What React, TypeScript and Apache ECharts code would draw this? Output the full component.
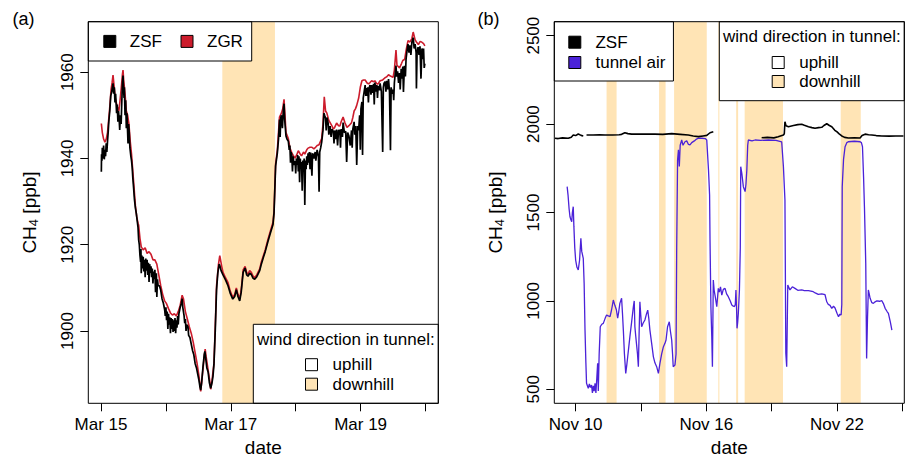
import React, { useEffect, useRef } from 'react';
import * as echarts from 'echarts';

const FONT = '"Liberation Sans", Arial, Helvetica, sans-serif';
const SHADE = '#FFE4B5';
const RED = '#CC1C2C';
const PURPLE = '#4B22D8';
const BLACK = '#000000';

// ---------- Panel (a): x = days since Mar 15 00:00 ----------
const marStartDay = 15;
const marTickDays = [0, 1, 2, 3, 4, 5];
const marLabelDays = [0, 2, 4];
const marYTicks = [1900, 1920, 1940, 1960];
const marDownhill = [[1.869, 2.68]];

const zgrMar = [
  [0.005,1948.1],[0.02,1946],[0.04,1944.5],[0.06,1943.8],[0.08,1944.5],[0.1,1946],[0.13,1951],[0.155,1956],[0.17,1957.5],[0.185,1959.3],
  [0.2,1957],[0.22,1954],[0.25,1952],[0.275,1951],[0.29,1953],[0.31,1956],[0.33,1959.5],[0.339,1960.5],[0.35,1958],[0.37,1955],
  [0.39,1951],[0.41,1950],[0.43,1948],[0.45,1944],[0.47,1941],[0.49,1937],[0.51,1933],[0.53,1929],[0.55,1926.5],[0.57,1925],
  [0.58,1924.5],[0.6,1921.5],[0.62,1919.5],[0.65,1918.8],[0.68,1919.3],[0.71,1918],[0.74,1918.4],[0.77,1917.8],[0.8,1916.5],[0.83,1916.5],
  [0.86,1915.5],[0.89,1913],[0.92,1910.5],[0.95,1908.5],[0.98,1907],[1.007,1906.4],[1.04,1905.2],[1.07,1904.2],[1.1,1903.7],[1.13,1904],
  [1.16,1903.5],[1.19,1904.5],[1.22,1906],[1.25,1908.3],[1.27,1907.5],[1.3,1904.5],[1.33,1902.8],[1.36,1901],[1.39,1899.5],[1.42,1897.5],
  [1.45,1895],[1.48,1892.5],[1.51,1889.5],[1.536,1886],[1.56,1889.5],[1.59,1894],[1.605,1895.8],[1.62,1894],[1.65,1891],[1.675,1888.5],
  [1.69,1886.5],[1.71,1888.5],[1.74,1892.5],[1.76,1901],[1.78,1910.5],[1.81,1915.5],[1.83,1917.5],[1.86,1915],[1.88,1913.6],[1.92,1912.3],
  [1.957,1911.2],[1.99,1909.3],[2.03,1907.8],[2.06,1908.5],[2.085,1910],[2.11,1908.5],[2.137,1907.4],[2.16,1909.5],[2.19,1914.2],[2.22,1915],
  [2.245,1913.5],[2.265,1913.2],[2.29,1914],[2.316,1913.6],[2.34,1912.8],[2.368,1912.4],[2.4,1913],[2.445,1914.4],[2.47,1916],[2.5,1917.4],
  [2.53,1918.8],[2.573,1921.3],[2.61,1923.2],[2.65,1925.2],[2.666,1927.8],[2.69,1938.7],[2.717,1942],[2.75,1949.6],[2.78,1950.5],[2.8,1951.5],
  [2.82,1953.7],[2.835,1950],[2.85,1946],[2.886,1944.6],[2.91,1942.5],[2.94,1941.3],[2.97,1940.5],[2.99,1940.1],[3.02,1941],[3.04,1941.8],
  [3.07,1941],[3.09,1940.6],[3.12,1941.5],[3.14,1941],[3.17,1942],[3.19,1942.4],[3.22,1942.6],[3.25,1942.6],[3.28,1942.2],[3.3,1942.5],
  [3.33,1943],[3.36,1943.2],[3.4,1944.6],[3.42,1948],[3.44,1954.3],[3.46,1951],[3.48,1950.5],[3.51,1948.8],[3.53,1948.3],[3.56,1947.5],
  [3.58,1946.8],[3.6,1947.2],[3.63,1948.2],[3.66,1947.6],[3.68,1947.5],[3.7,1948.5],[3.73,1949.6],[3.76,1948.2],[3.79,1947.2],[3.82,1947.6],
  [3.86,1948.3],[3.88,1949.5],[3.9,1951],[3.92,1951.5],[3.94,1952.3],[3.97,1954],[3.995,1956.5],[4.02,1958],[4.045,1958.2],[4.07,1958.2],
  [4.1,1957.5],[4.12,1957.3],[4.145,1957.6],[4.17,1958],[4.2,1957.8],[4.22,1958],[4.25,1957.3],[4.27,1957.3],[4.3,1958],[4.34,1958.2],
  [4.376,1958.7],[4.4,1958.9],[4.43,1959.4],[4.46,1959.1],[4.5,1958.8],[4.52,1960.5],[4.545,1965.1],[4.56,1961.6],[4.6,1961],[4.63,1962],
  [4.65,1962.7],[4.68,1963],[4.7,1965],[4.73,1967.3],[4.76,1967],[4.79,1967.8],[4.81,1969.3],[4.84,1967.5],[4.86,1967],[4.89,1966.4],
  [4.915,1967.1],[4.94,1967],[4.97,1966.6],[4.99,1966.1]
];

const zsfMar = [
  [0.005,1936.9],[0.008,1941],[0.015,1939.5],[0.02,1942.5],[0.03,1940],[0.04,1943],[0.05,1939.8],[0.06,1942],[0.07,1940.5],[0.08,1943.5],
  [0.09,1941.5],[0.1,1944],[0.11,1946],[0.12,1948.5],[0.135,1951],[0.15,1954.5],[0.165,1955.5],[0.175,1956.5],[0.185,1957.4],[0.195,1955],
  [0.205,1956.5],[0.215,1953],[0.225,1955],[0.24,1950.5],[0.25,1952.5],[0.26,1948.5],[0.27,1951],[0.28,1949],[0.288,1946.6],[0.3,1950],
  [0.31,1948],[0.32,1953],[0.33,1957.5],[0.339,1959.2],[0.345,1957],[0.355,1954],[0.36,1956.5],[0.37,1950],[0.38,1953.5],[0.39,1947],
  [0.4,1950.5],[0.41,1946],[0.416,1943.5],[0.425,1948],[0.435,1946],[0.445,1942.5],[0.46,1940.5],[0.47,1939.5],[0.48,1938],[0.49,1935.5],
  [0.503,1933],[0.515,1930.5],[0.53,1928.5],[0.544,1927.2],[0.57,1924],[0.58,1921.1],[0.59,1920],[0.6,1917.5],[0.61,1916],[0.615,1919],
  [0.62,1913.4],[0.63,1917.5],[0.64,1914.5],[0.65,1917.2],[0.66,1913.8],[0.67,1916.5],[0.68,1912.5],[0.69,1916.8],[0.7,1914],[0.71,1916.5],
  [0.72,1913],[0.73,1915.8],[0.74,1911.4],[0.75,1915.5],[0.76,1913.5],[0.77,1915],[0.78,1912.5],[0.79,1914.5],[0.8,1911],[0.81,1913.8],
  [0.82,1912],[0.83,1914.2],[0.84,1909],[0.853,1913.4],[0.86,1907.9],[0.87,1912],[0.88,1910.5],[0.9,1910.5],[0.92,1909.5],[0.94,1907.5],
  [0.96,1906.5],[0.98,1905],[0.99,1903.5],[1.0,1905.5],[1.01,1902.5],[1.02,1904.5],[1.03,1900.5],[1.04,1904],[1.05,1901.5],[1.06,1903.2],
  [1.07,1899.5],[1.08,1903],[1.09,1900.5],[1.1,1902.8],[1.11,1899.8],[1.12,1902.5],[1.13,1900],[1.14,1903],[1.15,1899.5],[1.16,1902.5],
  [1.17,1900.8],[1.18,1903.5],[1.19,1901.5],[1.2,1904],[1.22,1905.5],[1.237,1906.4],[1.25,1907.5],[1.26,1905.5],[1.28,1903.5],[1.29,1901.8],
  [1.3,1902.8],[1.31,1900],[1.32,1901.5],[1.34,1901],[1.35,1899],[1.37,1898.5],[1.39,1897],[1.41,1895.5],[1.43,1894.5],[1.45,1892.5],
  [1.47,1891.5],[1.49,1890],[1.51,1888.5],[1.525,1887],[1.536,1886.3],[1.55,1888],[1.57,1891.5],[1.59,1894.5],[1.6,1895.3],[1.615,1893.5],
  [1.63,1891.5],[1.65,1890.5],[1.67,1888],[1.69,1886.7],[1.71,1888],[1.725,1889.5],[1.74,1892.2],[1.76,1900],[1.78,1909.5],[1.8,1913.5],
  [1.82,1915.5],[1.83,1915.2],[1.85,1914],[1.88,1913],[1.92,1911.8],[1.957,1910.5],[1.99,1908.8],[2.03,1907.4],[2.06,1908],[2.085,1909.6],
  [2.11,1908],[2.137,1907],[2.16,1909],[2.19,1913.6],[2.22,1914.6],[2.245,1913],[2.265,1912.7],[2.29,1913.4],[2.316,1913.1],[2.34,1912.3],
  [2.368,1912],[2.4,1912.6],[2.445,1914],[2.47,1915.5],[2.5,1917],[2.53,1918.4],[2.573,1920.8],[2.61,1922.7],[2.65,1924.7],[2.666,1927.4],
  [2.69,1938.2],[2.717,1941.3],[2.735,1944.5],[2.75,1949],[2.76,1945],[2.77,1949.5],[2.78,1950],[2.795,1947],[2.81,1951.5],[2.82,1952.7],
  [2.83,1949],[2.85,1945.2],[2.865,1944.5],[2.886,1944],[2.9,1942],[2.91,1943],[2.92,1939],[2.93,1941.5],[2.94,1940.6],[2.95,1937],
  [2.96,1940.5],[2.975,1938.5],[2.99,1939.4],[3.0,1936.5],[3.01,1940],[3.02,1938.5],[3.03,1940.8],[3.04,1937],[3.05,1940.5],[3.06,1934.5],
  [3.07,1940],[3.08,1938],[3.09,1939.2],[3.1,1932.5],[3.11,1939.5],[3.12,1937],[3.13,1940],[3.14,1929.2],[3.15,1939.5],[3.16,1937.5],
  [3.17,1940.5],[3.18,1938.5],[3.19,1941.2],[3.2,1939],[3.21,1941.5],[3.22,1937.5],[3.23,1941.4],[3.25,1936],[3.26,1941.2],[3.28,1940],
  [3.3,1941.5],[3.31,1939.5],[3.33,1942],[3.35,1940.5],[3.36,1932.3],[3.37,1941.5],[3.385,1942.5],[3.4,1943.8],[3.42,1946.5],[3.435,1950.5],
  [3.445,1950],[3.46,1949.3],[3.47,1946.5],[3.48,1949.5],[3.5,1948.2],[3.51,1945.5],[3.53,1947.5],[3.545,1945],[3.56,1946.8],[3.58,1946.2],
  [3.59,1943.5],[3.6,1946.5],[3.62,1944.5],[3.63,1946.7],[3.645,1943],[3.66,1946.5],[3.68,1946.5],[3.69,1942.5],[3.7,1946.8],[3.72,1945],
  [3.73,1948.3],[3.75,1946],[3.77,1946.3],[3.785,1939.2],[3.8,1946],[3.82,1945.2],[3.84,1943],[3.86,1946.5],[3.87,1942.5],[3.88,1946.8],
  [3.9,1948.5],[3.91,1945.5],[3.925,1947.5],[3.94,1938.5],[3.955,1947.5],[3.97,1946.5],[3.985,1950],[3.995,1942],[4.005,1951.5],[4.02,1953.1],
  [4.03,1940.8],[4.04,1954],[4.055,1955.5],[4.07,1957],[4.08,1954.5],[4.09,1956.3],[4.1,1954.5],[4.11,1956.5],[4.12,1953],[4.13,1956.3],
  [4.145,1957],[4.16,1954.8],[4.17,1957],[4.185,1955.2],[4.2,1957.3],[4.21,1952.5],[4.22,1957.6],[4.235,1955.5],[4.25,1957],[4.26,1954],
  [4.27,1956.8],[4.29,1955.8],[4.3,1957.4],[4.32,1955.5],[4.34,1941.5],[4.35,1956.5],[4.36,1957.4],[4.376,1957.8],[4.39,1955.5],[4.4,1958],
  [4.415,1956],[4.43,1958.4],[4.445,1955.5],[4.46,1941.9],[4.47,1956.5],[4.485,1955],[4.5,1956],[4.51,1953.5],[4.52,1957.5],[4.535,1960],
  [4.545,1961.5],[4.555,1959],[4.57,1960.2],[4.585,1957.5],[4.6,1959.8],[4.61,1956],[4.625,1960.8],[4.64,1958.5],[4.65,1961.3],[4.66,1955.4],
  [4.675,1961.5],[4.69,1959],[4.7,1963],[4.715,1965],[4.73,1966.5],[4.745,1964.5],[4.76,1966.2],[4.775,1964],[4.79,1967],[4.81,1968],
  [4.825,1965.5],[4.84,1966.5],[4.855,1964.5],[4.86,1956.2],[4.87,1964.5],[4.885,1965.8],[4.9,1964],[4.915,1966],[4.93,1958.5],[4.945,1965.5],
  [4.96,1963],[4.97,1965.5],[4.98,1961],[4.99,1962]
];

// ---------- Panel (b): x = days since Nov 10 00:00 ----------
const novStartDay = 10;
const novTickDays = [0, 3, 6, 9, 12, 15];
const novLabelDays = [0, 6, 12];
const novYTicks = [500, 1000, 1500, 2000, 2500];
const novDownhill = [[1.42,1.88],[3.83,4.13],[4.52,6.02],[6.55,6.6],[7.37,7.46],[7.76,9.52],[12.17,13.09]];

const tunnelNov = [
  [-0.39,1646],[-0.35,1600],[-0.3,1520],[-0.26,1476],[-0.22,1460],[-0.18,1448],[-0.15,1500],[-0.11,1533],[-0.08,1420],[-0.04,1300],
  [0,1231],[0.06,1190],[0.12,1175],[0.18,1230],[0.24,1354],[0.28,1280],[0.35,1241],[0.39,1100],[0.43,835],[0.47,650],
  [0.5,534],[0.54,520],[0.58,506],[0.63,530],[0.68,510],[0.73,524],[0.77,480],[0.81,520],[0.85,490],[0.89,534],
  [0.93,480],[0.97,560],[1.01,647],[1.04,490],[1.08,700],[1.13,854],[1.2,868],[1.27,873],[1.35,900],[1.42,920],
  [1.5,915],[1.58,911],[1.65,950],[1.73,1005],[1.8,975],[1.87,950],[1.93,902],[1.98,940],[2.03,986],[2.11,1015],
  [2.15,930],[2.19,835],[2.24,700],[2.3,590],[2.35,640],[2.39,684],[2.44,740],[2.49,797],[2.57,880],[2.65,967],
  [2.69,1000],[2.72,854],[2.76,800],[2.8,750],[2.84,700],[2.88,628],[2.92,850],[2.95,995],[2.99,920],[3.03,854],
  [3.1,875],[3.18,892],[3.25,925],[3.31,948],[3.36,900],[3.41,835],[3.49,760],[3.57,684],[3.64,650],[3.72,628],
  [3.8,590],[3.87,647],[3.95,700],[4.03,741],[4.1,760],[4.15,779],[4.22,854],[4.3,882],[4.35,830],[4.41,779],
  [4.45,700],[4.48,628],[4.56,637],[4.61,700],[4.64,1300],[4.68,1797],[4.72,1854],[4.76,1760],[4.8,1880],[4.87,1910],
  [4.93,1880],[5.02,1900],[5.1,1905],[5.18,1885],[5.25,1882],[5.33,1895],[5.45,1905],[5.55,1915],[5.63,1920],[5.8,1920],
  [5.95,1918],[6.02,1910],[6.1,1740],[6.15,1600],[6.17,1344],[6.21,967],[6.25,800],[6.28,628],[6.32,1118],[6.36,1060],
  [6.41,1024],[6.48,967],[6.55,1071],[6.6,1050],[6.65,1080],[6.71,1033],[6.78,1065],[6.86,1071],[6.93,1040],[7.01,1024],
  [7.1,1000],[7.17,977],[7.24,970],[7.29,968],[7.33,980],[7.36,1062],[7.39,950],[7.41,845],[7.44,880],[7.47,930],
  [7.52,1062],[7.56,1300],[7.58,1759],[7.63,1722],[7.7,1646],[7.78,1618],[7.82,1660],[7.86,1740],[7.9,1880],[7.93,1910],
  [8.1,1905],[8.24,1910],[8.5,1908],[8.85,1910],[9.2,1908],[9.46,1900],[9.54,1759],[9.61,1571],[9.65,704],[9.69,628],
  [9.74,1090],[9.84,1062],[9.95,1080],[10.07,1071],[10.2,1060],[10.38,1062],[10.5,1058],[10.69,1058],[10.8,1055],[10.91,1052],
  [11.0,1045],[11.14,1037],[11.3,1040],[11.45,1035],[11.53,995],[11.6,980],[11.68,975],[11.76,958],[11.84,970],[11.91,960],
  [12.0,930],[12.07,911],[12.13,925],[12.19,920],[12.22,980],[12.24,1646],[12.3,1800],[12.37,1872],[12.45,1895],[12.52,1900],
  [12.8,1903],[13.06,1900],[13.12,1895],[13.17,1872],[13.22,1700],[13.26,1533],[13.32,1213],[13.36,675],[13.4,900],[13.44,1062],
  [13.48,1040],[13.52,1015],[13.6,990],[13.67,986],[13.75,995],[13.83,1000],[13.95,998],[14.06,1001],[14.13,985],[14.21,958],
  [14.3,940],[14.36,930],[14.45,880],[14.52,835]
];

const zsfNov = [
  [-0.95,1920],[-0.8,1918],[-0.6,1922],[-0.34,1920],[-0.2,1926],[-0.11,1938],[0.0,1935],[0.12,1944],[0.25,1936],[0.35,1933],
  [0.38,null],[0.5,1938],[0.8,1938],[1.1,1939],[1.35,1938],[1.7,1938],[2.0,1940],[2.11,1942],[2.26,1951],[2.4,1946],
  [2.57,1943],[3.0,1943],[3.64,1943],[4.0,1942],[4.41,1946],[4.8,1942],[5.17,1938],[5.4,1933],[5.63,1929],[5.85,1933],
  [6.02,1936],[6.17,1951],[6.32,1957],[6.33,null],[8.54,1923],[8.8,1925],[9.1,1922],[9.3,1928],[9.54,1938],[9.58,1945],
  [9.61,2013],[9.66,1990],[9.77,1985],[10.0,1992],[10.2,1997],[10.38,1999],[10.5,1993],[10.69,1985],[10.85,1980],[10.99,1976],
  [11.15,1980],[11.3,1982],[11.4,1992],[11.53,2002],[11.65,1992],[11.76,1985],[11.9,1965],[11.99,1957],[12.1,1945],[12.22,1933],
  [12.35,1925],[12.52,1921],[12.8,1922],[13.06,1921],[13.15,1935],[13.29,1943],[13.45,1940],[13.6,1938],[13.8,1935],[14.06,1933],
  [14.4,1932],[14.7,1933],[15.05,1933]
];

const windTitle = 'wind direction in tunnel:';

const GA = { left: 88.3, top: 21.7, width: 350, height: 381.6 };
const GB = { left: 554.3, top: 21.7, width: 350, height: 381.6 };
const MAR_X = [-0.196, 5.197];
const MAR_Y = [1883.25, 1971.7];
const NOV_X = [-0.98, 15.09];
const NOV_Y = [421, 2579];

const txt = (size: number) => ({ fontSize: size, color: BLACK, fontFamily: FONT });

const shadeItem = (params: any, api: any) => {
  const cs = params.coordSys;
  const x0 = api.coord([api.value(0), 0])[0];
  const x1 = api.coord([api.value(1), 0])[0];
  return {
    type: 'rect',
    shape: { x: x0, y: cs.y, width: Math.max(x1 - x0, 1), height: cs.height },
    style: { fill: SHADE },
  };
};

function xAxisDef(grid: number, ext: number[], ticks: number[], labels: number[], month: string, start: number) {
  const isLabelled = (v: number) => labels.some((d) => Math.abs(d - v) < 1e-6);
  return {
    type: 'value', gridIndex: grid, min: ext[0], max: ext[1],
    axisLine: { show: false, onZero: false }, splitLine: { show: false },
    axisTick: { show: true, inside: false, customValues: ticks, length: 8, lineStyle: { color: BLACK, width: 1 } },
    axisLabel: {
      show: true, customValues: ticks, margin: 13, ...txt(17),
      formatter: (v: number) => (isLabelled(v) ? month + ' ' + Math.round(start + v) : ''),
    },
    name: 'date', nameLocation: 'middle', nameGap: 33.6, nameTextStyle: txt(19),
  };
}

// main chart y axis: name only (tick marks and rotated labels come from the overlay chart)
function yAxisDef(grid: number, ext: number[]) {
  return {
    type: 'value', gridIndex: grid, min: ext[0], max: ext[1],
    axisLine: { show: false, onZero: false }, splitLine: { show: false },
    axisTick: { show: false }, axisLabel: { show: false },
    name: 'CH{s|4} [ppb]', nameLocation: 'middle', nameGap: 48,
    nameTextStyle: { ...txt(19), rich: { s: { ...txt(13), padding: [9, 0, 0, 0] } } },
  };
}

const legendBase = {
  icon: 'rect', itemWidth: 12, itemHeight: 12, selectedMode: false,
  itemStyle: { borderColor: BLACK, borderWidth: 1 },
  z: 8,
};

function buildMainOption(): any {
  return {
    animation: false,
    grid: [
      { ...GA, show: false, outerBoundsMode: 'none' },
      { ...GB, show: false, outerBoundsMode: 'none' },
    ],
    xAxis: [
      xAxisDef(0, MAR_X, marTickDays, marLabelDays, 'Mar', marStartDay),
      xAxisDef(1, NOV_X, novTickDays, novLabelDays, 'Nov', novStartDay),
    ],
    yAxis: [yAxisDef(0, MAR_Y), yAxisDef(1, NOV_Y)],
    legend: [
      { ...legendBase, data: ['ZSF', 'ZGR'], orient: 'horizontal', left: GA.left, top: GA.top,
        itemGap: 18.6, padding: [11.2, 8.8, 11.1, 15], backgroundColor: '#fff', borderColor: BLACK, borderWidth: 1, borderRadius: 0,
        textStyle: { ...txt(17), padding: [0, 0, 0, 9] } },
      { ...legendBase, data: ['uphill', 'downhill'], orient: 'vertical', left: 305, top: 356.2,
        itemGap: 2.5, padding: 0, textStyle: { ...txt(17), padding: [0, 0, 0, 10] } },
      { ...legendBase, data: ['ZSF', 'tunnel air'], orient: 'vertical', left: GB.left, top: GB.top,
        itemGap: 3.3, padding: [12, 8, 10, 14], backgroundColor: '#fff', borderColor: BLACK, borderWidth: 1, borderRadius: 0,
        textStyle: { ...txt(17), padding: [0, 0, 0, 9.7] } },
      { ...legendBase, data: ['uphill', 'downhill'], orient: 'vertical', left: 771.7, top: 54,
        itemGap: 2, padding: 0, textStyle: { ...txt(17), padding: [0, 0, 0, 10] } },
    ],
    series: [
      { name: 'uphill', type: 'custom', xAxisIndex: 0, yAxisIndex: 0, data: [], renderItem: () => null,
        itemStyle: { color: '#ffffff' }, z: 1, silent: true },
      { name: 'downhill', type: 'custom', xAxisIndex: 0, yAxisIndex: 0, data: marDownhill, encode: { x: [0, 1] },
        renderItem: shadeItem, itemStyle: { color: SHADE }, z: 1, silent: true, clip: true },
      { name: 'downhill', type: 'custom', xAxisIndex: 1, yAxisIndex: 1, data: novDownhill, encode: { x: [0, 1] },
        renderItem: shadeItem, itemStyle: { color: SHADE }, z: 1, silent: true, clip: true },
      { name: 'ZGR', type: 'line', xAxisIndex: 0, yAxisIndex: 0, data: zgrMar, showSymbol: false, symbol: 'none',
        color: RED, itemStyle: { color: RED }, lineStyle: { color: RED, width: 1.6 }, z: 2, silent: true },
      { name: 'ZSF', type: 'line', xAxisIndex: 0, yAxisIndex: 0, data: zsfMar, showSymbol: false, symbol: 'none',
        color: BLACK, itemStyle: { color: BLACK }, lineStyle: { color: BLACK, width: 1.7 }, z: 3, silent: true },
      { name: 'tunnel air', type: 'line', xAxisIndex: 1, yAxisIndex: 1, data: tunnelNov, showSymbol: false, symbol: 'none',
        color: PURPLE, itemStyle: { color: PURPLE }, lineStyle: { color: PURPLE, width: 1.3 }, z: 2, silent: true },
      { name: 'ZSF', type: 'line', xAxisIndex: 1, yAxisIndex: 1, data: zsfNov, showSymbol: false, symbol: 'none',
        connectNulls: false, color: BLACK, itemStyle: { color: BLACK }, lineStyle: { color: BLACK, width: 1.6 }, z: 3, silent: true },
    ],
    graphic: [
      { type: 'rect', z: 10, silent: true, shape: { x: GA.left, y: GA.top, width: GA.width, height: GA.height },
        style: { fill: 'none', stroke: BLACK, lineWidth: 1 } },
      { type: 'rect', z: 10, silent: true, shape: { x: GB.left, y: GB.top, width: GB.width, height: GB.height },
        style: { fill: 'none', stroke: BLACK, lineWidth: 1 } },
      { type: 'rect', z: 5, silent: true, shape: { x: 253.3, y: 324.3, width: 185, height: 79 },
        style: { fill: '#fff', stroke: BLACK, lineWidth: 1 } },
      { type: 'rect', z: 5, silent: true, shape: { x: 719.3, y: 21.7, width: 185, height: 79 },
        style: { fill: '#fff', stroke: BLACK, lineWidth: 1 } },
      { type: 'text', z: 6, silent: true, x: 345.8, y: 339,
        style: { text: windTitle, fill: BLACK, align: 'center', verticalAlign: 'middle', font: '17px ' + FONT } },
      { type: 'text', z: 6, silent: true, x: 811.8, y: 36.8,
        style: { text: windTitle, fill: BLACK, align: 'center', verticalAlign: 'middle', font: '17px ' + FONT } },
      { type: 'text', z: 6, silent: true, x: 23.5, y: 19,
        style: { text: '(a)', fill: BLACK, align: 'center', verticalAlign: 'middle', font: '18px ' + FONT } },
      { type: 'text', z: 6, silent: true, x: 488.5, y: 19,
        style: { text: '(b)', fill: BLACK, align: 'center', verticalAlign: 'middle', font: '18px ' + FONT } },
    ],
  };
}

// overlay chart (one grid): y tick marks and rotated y tick labels of one panel
function buildYOption(g: any, xExt: number[], yExt: number[], ticks: number[]): any {
  return {
    animation: false,
    grid: { ...g, show: false, outerBoundsMode: 'none' },
    xAxis: { type: 'value', min: xExt[0], max: xExt[1], show: false },
    yAxis: {
      type: 'value', min: yExt[0], max: yExt[1],
      axisLine: { show: false, onZero: false }, splitLine: { show: false },
      axisTick: { show: true, inside: false, customValues: ticks, length: 8, lineStyle: { color: BLACK, width: 1 } },
      axisLabel: {
        show: true, customValues: ticks, rotate: 90, margin: 12, ...txt(17),
        align: 'center', verticalAlign: 'bottom',
        formatter: (v: number) => String(Math.round(v)),
      },
    },
    series: [{ type: 'line', data: [], silent: true, showSymbol: false }],
  };
}

const layerStyle: any = { position: 'fixed', left: 0, top: 0, width: 905, height: 459 };

function Chart({ option, bg }: { option: any; bg?: string }) {
  const ref = useRef<HTMLDivElement>(null);
  useEffect(() => {
    if (!ref.current) return;
    const chart = echarts.init(ref.current, null, { renderer: 'svg' });
    chart.setOption(option);
    return () => chart.dispose();
  }, []);
  return <div ref={ref} style={{ ...layerStyle, background: bg || 'transparent', pointerEvents: bg ? 'auto' : 'none' }} />;
}

export default function App() {
  return (
    <div style={layerStyle}>
      <Chart option={buildMainOption()} bg="#ffffff" />
      <Chart option={buildYOption(GA, MAR_X, MAR_Y, marYTicks)} />
      <Chart option={buildYOption(GB, NOV_X, NOV_Y, novYTicks)} />
    </div>
  );
}
